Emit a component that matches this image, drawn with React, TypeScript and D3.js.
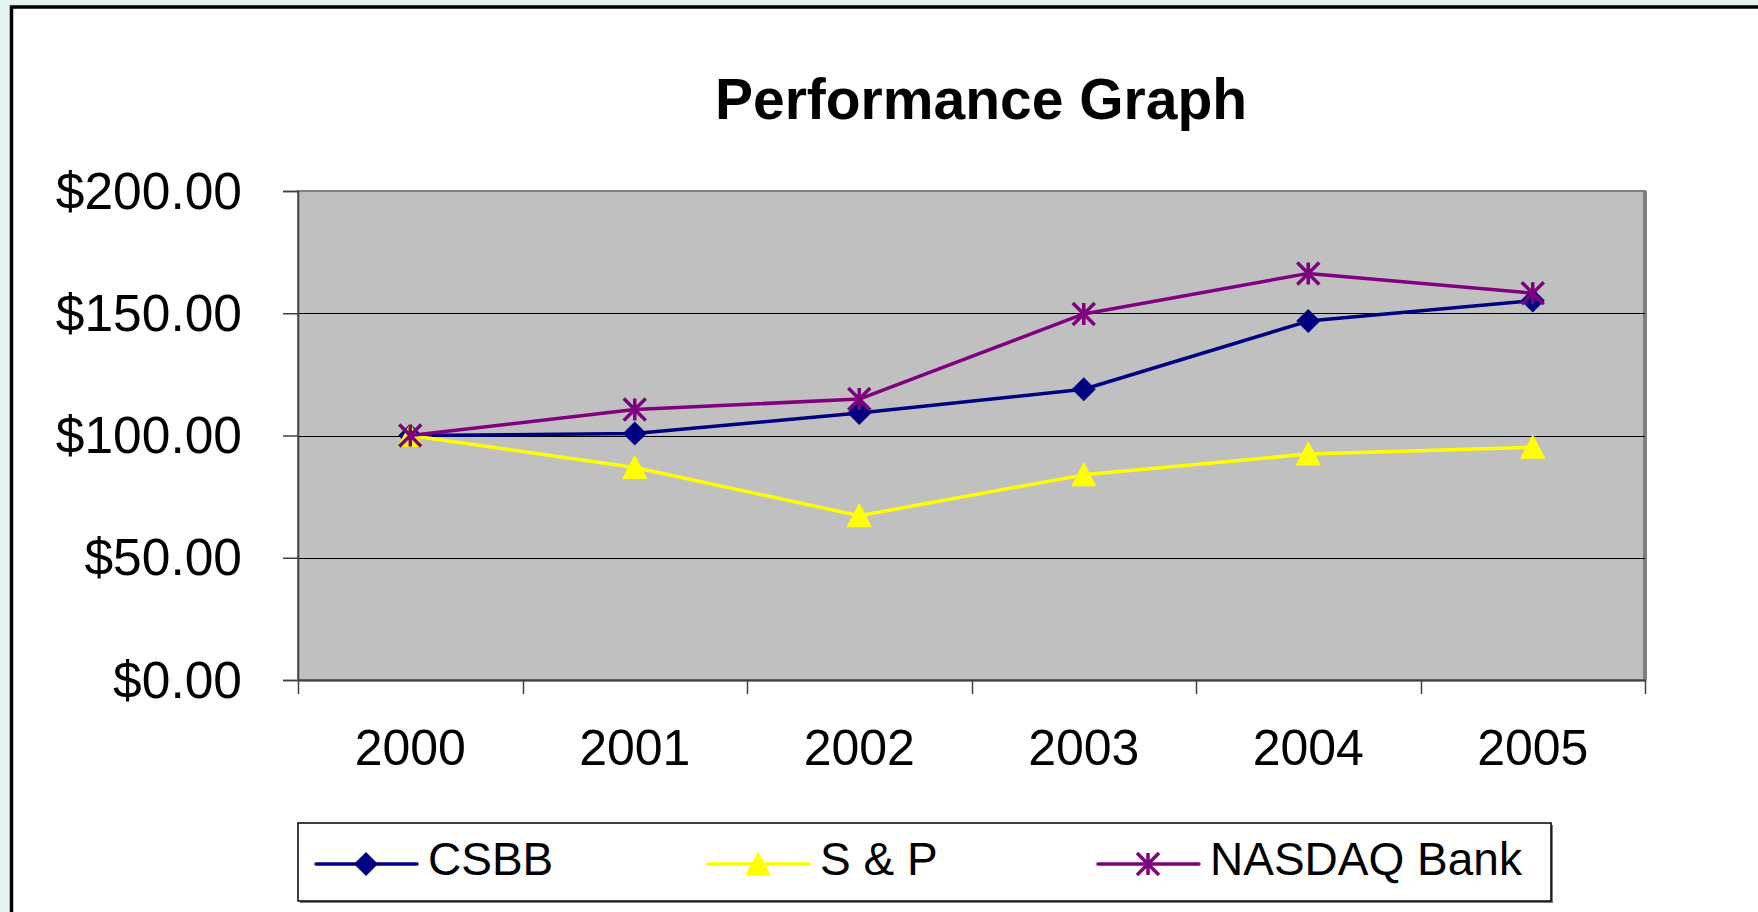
import React, { useEffect, useRef } from 'react';
import * as d3 from 'd3';

const YEARS = ['2000', '2001', '2002', '2003', '2004', '2005'];
const CSBB = [100, 100.8, 109.2, 118.9, 146.8, 155.2];
const SP = [100, 86.9, 67.2, 83.9, 92.4, 95.2];
const NASDAQ_BANK = [100, 110.6, 114.9, 149.7, 166.3, 158.2];
const Y_TICKS = [0, 50, 100, 150, 200];

const SERIES = [
  { name: 'CSBB', values: CSBB, color: '#000080', marker: 'diamond' },
  { name: 'S & P', values: SP, color: '#ffff00', marker: 'triangle' },
  { name: 'NASDAQ Bank', values: NASDAQ_BANK, color: '#800080', marker: 'star' },
];

const FONT = '"Liberation Sans", Arial, Helvetica, sans-serif';

const App: React.FC = () => {
  const svgRef = useRef<SVGSVGElement>(null);

  useEffect(() => {
    if (!svgRef.current) return;
    const width = 1758;
    const height = 912;
    const plot = { left: 298, top: 191, right: 1645, bottom: 680 };

    const svg = d3.select(svgRef.current)
      .attr('width', width)
      .attr('height', height)
      .html('');

    // page background + outer frame
    svg.append('rect').attr('width', width).attr('height', height).attr('fill', '#e6f3f3');
    svg.append('rect')
      .attr('x', 11.5).attr('y', 7)
      .attr('width', width + 20).attr('height', height + 20)
      .attr('fill', '#ffffff')
      .attr('stroke', '#000000')
      .attr('stroke-width', 3.5);

    const x = d3.scaleBand<string>().domain(YEARS).range([plot.left, plot.right]);
    const y = d3.scaleLinear().domain([0, 200]).range([plot.bottom, plot.top]);

    // title
    svg.append('text')
      .attr('x', 981).attr('y', 119)
      .attr('text-anchor', 'middle')
      .attr('font-family', FONT)
      .attr('font-weight', 'bold')
      .attr('font-size', '57px')
      .text('Performance Graph');

    // plot area
    svg.append('rect')
      .attr('x', plot.left + 2).attr('y', plot.top + 2)
      .attr('width', plot.right - plot.left).attr('height', plot.bottom - plot.top)
      .attr('fill', '#d4d4d4');
    svg.append('rect')
      .attr('x', plot.left).attr('y', plot.top)
      .attr('width', plot.right - plot.left).attr('height', plot.bottom - plot.top)
      .attr('fill', '#c0c0c0')
      .attr('stroke', '#808080')
      .attr('stroke-width', 2);
    // thicker right edge like the reference
    svg.append('line')
      .attr('x1', plot.right).attr('x2', plot.right)
      .attr('y1', plot.top).attr('y2', plot.bottom)
      .attr('stroke', '#808080').attr('stroke-width', 4);

    // gridlines
    svg.append('g')
      .selectAll('line')
      .data(Y_TICKS.filter(t => t > 0 && t < 200))
      .enter()
      .append('line')
      .attr('x1', plot.left).attr('x2', plot.right)
      .attr('y1', d => Math.round(y(d)) + 0.5).attr('y2', d => Math.round(y(d)) + 0.5)
      .attr('stroke', '#000000').attr('stroke-width', 1);

    // y axis
    const yAxis = svg.append('g')
      .attr('transform', `translate(${plot.left},0)`)
      .call(d3.axisLeft(y).tickValues(Y_TICKS).tickSize(15).tickPadding(41)
        .tickFormat(d => '$' + d3.format('.2f')(d as number)));
    yAxis.select('.domain').attr('stroke', '#404040').attr('stroke-width', 1.5);
    yAxis.selectAll('.tick line').attr('stroke', '#404040').attr('stroke-width', 1.5);
    yAxis.selectAll('.tick text')
      .attr('font-family', FONT).attr('font-size', '51.5px').attr('fill', '#000')
      .attr('dy', '0.33em');

    // x axis
    const xAxis = svg.append('g')
      .attr('transform', `translate(0,${plot.bottom})`)
      .call(d3.axisBottom(x).tickSize(0).tickPadding(0));
    xAxis.select('.domain').attr('stroke', '#404040').attr('stroke-width', 2);
    xAxis.selectAll('.tick text')
      .attr('font-family', FONT).attr('font-size', '50px').attr('fill', '#000')
      .attr('y', 85).attr('dy', 0);
    // category boundary ticks
    const bounds = YEARS.map(c => x(c) as number).concat([plot.right]);
    svg.append('g')
      .selectAll('line')
      .data(bounds)
      .enter()
      .append('line')
      .attr('x1', d => Math.round(d) + 0.5).attr('x2', d => Math.round(d) + 0.5)
      .attr('y1', plot.bottom).attr('y2', plot.bottom + 14)
      .attr('stroke', '#404040').attr('stroke-width', 1.5);

    const drawMarker = (g: any, type: string, cx: number, cy: number, color: string) => {
      if (type === 'diamond') {
        const r = 12;
        g.append('path')
          .attr('d', `M${cx},${cy - r}L${cx + r},${cy}L${cx},${cy + r}L${cx - r},${cy}Z`)
          .attr('fill', color);
      } else if (type === 'triangle') {
        g.append('path')
          .attr('d', `M${cx},${cy - 12}L${cx + 12},${cy + 11}L${cx - 12},${cy + 11}Z`)
          .attr('fill', color)
          .attr('stroke', color).attr('stroke-width', 1).attr('stroke-linejoin', 'round');
      } else {
        const r = 11;
        const p = `M${cx},${cy - r}L${cx},${cy + r}M${cx - r},${cy - r}L${cx + r},${cy + r}M${cx + r},${cy - r}L${cx - r},${cy + r}`;
        g.append('path').attr('d', p).attr('stroke', color).attr('stroke-width', 3.5).attr('fill', 'none');
      }
    };

    const line = d3.line<number>()
      .x((_, i) => (x(YEARS[i]) as number) + x.bandwidth() / 2)
      .y(d => y(d));

    SERIES.forEach(s => {
      const g = svg.append('g');
      g.append('path')
        .attr('d', line(s.values))
        .attr('fill', 'none')
        .attr('stroke', s.color)
        .attr('stroke-width', 3.5)
        .attr('stroke-linejoin', 'round');
      s.values.forEach((v, i) => {
        drawMarker(g, s.marker, (x(YEARS[i]) as number) + x.bandwidth() / 2, y(v), s.color);
      });
    });

    // legend
    const leg = { left: 298, top: 823, right: 1551, bottom: 901 };
    svg.append('rect')
      .attr('x', leg.left + 2).attr('y', leg.top + 2)
      .attr('width', leg.right - leg.left).attr('height', leg.bottom - leg.top)
      .attr('fill', '#808080');
    svg.append('rect')
      .attr('x', leg.left).attr('y', leg.top)
      .attr('width', leg.right - leg.left).attr('height', leg.bottom - leg.top)
      .attr('fill', '#ffffff').attr('stroke', '#000000').attr('stroke-width', 1.5);

    const legX = [316, 708, 1098];
    const legY = 864;
    SERIES.forEach((s, i) => {
      const g = svg.append('g');
      const x0 = legX[i];
      g.append('line')
        .attr('x1', x0).attr('x2', x0 + 101)
        .attr('y1', legY).attr('y2', legY)
        .attr('stroke', s.color).attr('stroke-width', 3.5).attr('stroke-linecap', 'round');
      drawMarker(g, s.marker, x0 + 50, legY, s.color);
      g.append('text')
        .attr('x', x0 + 112).attr('y', legY + 11)
        .attr('font-family', FONT).attr('font-size', '46px').attr('fill', '#000')
        .text(s.name);
    });
  }, []);

  return (
    <svg ref={svgRef} style={{ position: 'absolute', left: 0, top: 0, display: 'block' }}></svg>
  );
};

export default App;
